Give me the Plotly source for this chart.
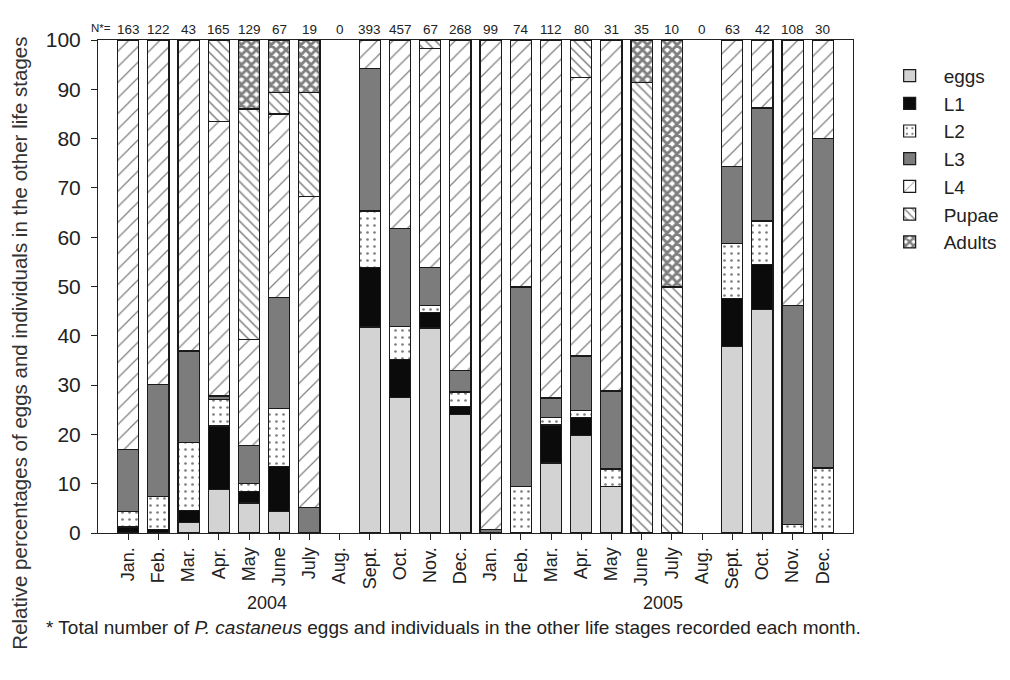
import plotly.graph_objects as go

months = ["Jan.", "Feb.", "Mar.", "Apr.", "May", "June", "July", "Aug.", "Sept.", "Oct.", "Nov.", "Dec.",
          "Jan.", "Feb.", "Mar.", "Apr.", "May", "June", "July", "Aug.", "Sept.", "Oct.", "Nov.", "Dec."]
n_total = [163, 122, 43, 165, 129, 67, 19, 0, 393, 457, 67, 268,
           99, 74, 112, 80, 31, 35, 10, 0, 63, 42, 108, 30]

eggs = [0, 0, 2.2, 8.8, 6.1, 4.3, 0, 0, 41.8, 27.5, 41.6, 24.0,
        0, 0, 14.2, 19.8, 9.5, 0, 0, 0, 37.8, 45.3, 0, 0]
l1 = [1.2, 0.7, 2.4, 12.9, 2.4, 9.2, 0, 0, 12.0, 7.7, 3.1, 1.6,
      0, 0, 7.7, 3.6, 0, 0, 0, 0, 9.7, 9.2, 0, 0]
l2 = [3.1, 6.7, 13.8, 5.4, 1.5, 11.7, 0, 0, 11.5, 6.7, 1.4, 3.0,
      0, 9.5, 1.6, 1.4, 3.5, 0, 0, 0, 11.2, 8.8, 1.7, 13.2]
l3 = [12.6, 22.8, 18.5, 0.7, 7.7, 22.5, 5.1, 0, 28.9, 19.8, 7.7, 4.4,
      0.7, 40.4, 3.9, 11.1, 15.8, 0, 0, 0, 15.7, 22.9, 44.5, 66.8]
l4 = [83.1, 69.8, 63.1, 55.7, 21.6, 37.3, 63.2, 0, 5.8, 38.3, 44.5, 67.0,
      99.3, 50.1, 72.6, 56.5, 71.2, 0, 0, 0, 25.6, 13.8, 53.8, 20.0]
pupae = [0, 0, 0, 16.5, 46.7, 4.4, 21.1, 0, 0, 0, 1.7, 0,
         0, 0, 0, 7.6, 0, 91.4, 49.9, 0, 0, 0, 0, 0]
adults = [0, 0, 0, 0, 14.0, 10.6, 10.6, 0, 0, 0, 0, 0,
          0, 0, 0, 0, 0, 8.6, 50.1, 0, 0, 0, 0, 0]

years = ["2004", "2005"]
year_pos = [4.6, 17.7]

x = list(range(len(months)))

series = [
    ("eggs", eggs, dict(color="#d3d3d3")),
    ("L1", l1, dict(color="#0b0b0b")),
    ("L2", l2, dict(color="white", pattern=dict(shape=".", fgcolor="black", bgcolor="white", size=7, solidity=0.12))),
    ("L3", l3, dict(color="#7c7c7c")),
    ("L4", l4, dict(color="white", pattern=dict(shape="/", fgcolor="black", bgcolor="white", size=11, solidity=0.11))),
    ("Pupae", pupae, dict(color="white", pattern=dict(shape="\\", fgcolor="black", bgcolor="white", size=7, solidity=0.22))),
    ("Adults", adults, dict(color="white", pattern=dict(shape="x", fgcolor="black", bgcolor="white", size=7, solidity=0.66))),
]

fig = go.Figure()
for name, vals, mk in series:
    mk = dict(mk)
    mk["line"] = dict(color="#1a1a1a", width=1.2)
    yv = [v if v > 0 else None for v in vals]
    fig.add_trace(go.Bar(x=x, y=yv, name=name, marker=mk))

font_family = "Liberation Sans, Arial, sans-serif"

annotations = []
for i, n in enumerate(n_total):
    annotations.append(dict(x=i, y=1.021, xref="x", yref="paper", text=str(n), showarrow=False,
                            font=dict(size=13.5, color="#222"), yanchor="middle"))
annotations.append(dict(x=-0.5, y=1.024, xref="x", yref="paper", text="N*=", showarrow=False,
                        font=dict(size=11.5, color="#222"), yanchor="middle", xanchor="right"))
for yr, p in zip(years, year_pos):
    annotations.append(dict(x=p, y=-0.142, xref="x", yref="paper", text=yr, showarrow=False,
                            font=dict(size=18, color="#222"), yanchor="middle"))
annotations.append(dict(x=-0.071, y=-0.191, xref="paper", yref="paper", xanchor="left", yanchor="middle",
                        text="* Total number of <i>P. castaneus</i> eggs and individuals in the other life stages recorded each month.",
                        showarrow=False, font=dict(size=19, color="#222")))
annotations.append(dict(x=-0.104, y=0.385, xref="paper", yref="paper", xanchor="center", yanchor="middle",
                        text="Relative percentages of eggs and individuals in the other life stages",
                        textangle=-90, showarrow=False, font=dict(size=20.5, color="#333")))

fig.update_layout(
    barmode="stack",
    bargap=0.3,
    width=1010, height=680,
    margin=dict(l=90, r=165, t=32, b=155, autoexpand=False),
    plot_bgcolor="white", paper_bgcolor="white",
    font=dict(family=font_family, color="#222"),
    legend=dict(x=1.03, y=0.966, xanchor="left", yanchor="top", font=dict(size=19),
                traceorder="normal", bgcolor="rgba(0,0,0,0)", itemwidth=58),
    annotations=annotations,
    showlegend=True,
)
fig.update_xaxes(range=[-1, 24], tickmode="array", tickvals=x, ticktext=months, tickangle=-90,
                 ticks="outside", ticklen=6, tickcolor="#222", showline=True, linecolor="#222", linewidth=1,
                 mirror=True, showgrid=False, zeroline=False, tickfont=dict(size=18))
fig.update_yaxes(range=[0, 100], tickmode="linear", tick0=0, dtick=10, ticks="outside", ticklen=6,
                 tickcolor="#222", showline=True, linecolor="#222", linewidth=1, mirror=True,
                 showgrid=False, zeroline=False, tickfont=dict(size=21), ticklabelstandoff=6)

fig.write_html("out.html")
